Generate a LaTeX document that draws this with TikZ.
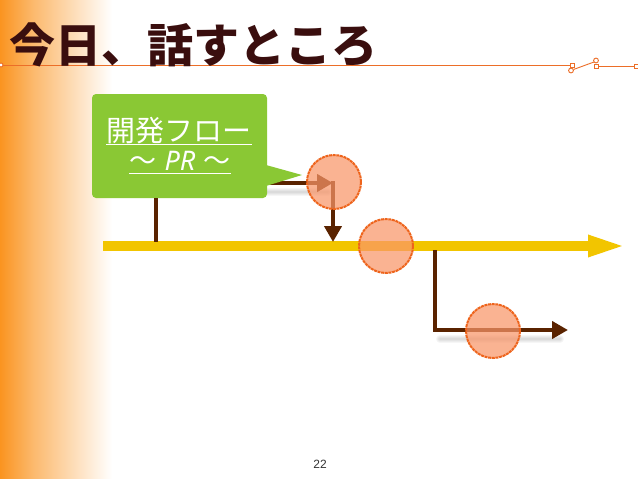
\documentclass[tikz,border=0pt]{standalone}
\usepackage{fontspec}
\usetikzlibrary{arrows.meta,calc}
\newfontfamily\cjk{Noto Sans CJK JP}
\newfontfamily\latsans{Noto Sans}
\setmainfont{Liberation Sans}
\definecolor{titlebrown}{RGB}{58,14,14}
\definecolor{lineorange}{RGB}{236,110,40}
\definecolor{sideorange}{RGB}{250,148,32}
\definecolor{boxgreen}{RGB}{138,200,52}
\definecolor{flowbrown}{RGB}{90,35,0}
\definecolor{mainyellow}{RGB}{242,197,0}
\definecolor{circfill}{RGB}{249,150,105}
\definecolor{circedge}{RGB}{238,100,28}
\pgfdeclarehorizontalshading{sidefade}{100bp}{color(0bp)=(sideorange); color(25bp)=(sideorange); color(40bp)=(sideorange!65!white); color(75bp)=(white); color(100bp)=(white)}
\tikzset{
  flow/.style={draw=flowbrown, line width=4pt, -{Triangle[length=16pt,width=17pt]}},
  flowplain/.style={draw=flowbrown, line width=4pt},
  shadowline/.style={draw=black, line width=#1, opacity=0.035, line cap=round},
  commit/.style={circle, minimum size=54pt, inner sep=0pt, fill=circfill, fill opacity=0.72, draw=circedge, line width=2pt, dash pattern=on 3pt off 0.7pt},
  sw/.style={draw=lineorange, line width=0.9pt},
}
\begin{document}
\begin{tikzpicture}[x=1pt,y=-1pt]
\useasboundingbox (0,0) rectangle (638,479);
\fill[white] (0,0) rectangle (638,479);
\shade[shading=sidefade] (0,0) rectangle (112,479);

% title rule with switch
\draw[sw] (3,65) -- (570,65);
\draw[sw, fill=white] (1,65) circle (2pt);
\draw[sw, fill=white] (570,63) rectangle (574,67);
\draw[sw, fill=white] (571,70.5) circle (2.4pt);
\draw[sw] (573.5,69.5) -- (594,62);
\draw[sw, fill=white] (596,60.5) circle (2.4pt);
\draw[sw, fill=white] (594,64) rectangle (598,68);
\draw[sw] (598,66) -- (634,66);
\draw[sw, fill=white] (634,64) rectangle (638,68);

\node[anchor=base west, inner sep=0pt, text=titlebrown, font=\cjk\bfseries\fontsize{46}{46}\selectfont] (title) at (9,62) {今日、話すところ};

% coordinates
\coordinate (boxpt) at (262,183);
\coordinate (c1) at (333,183);
\coordinate (c1down) at (333,242);
\coordinate (branchtop) at (156,198);
\coordinate (branchbot) at (156,242);
\coordinate (ystart) at (103,246);
\coordinate (yend) at (628,246);
\coordinate (b2top) at (435,250);
\coordinate (b2corner) at (435,330);
\coordinate (b2end) at (568,330);

% soft shadows
\foreach \w in {2,4,6,8} {
  \draw[shadowline=\w pt] (266,192) -- (328,192);
  \draw[shadowline=\w pt] (440,339) -- (560,339);
}

% main yellow line
\draw[draw=mainyellow, line width=10pt, -{Triangle[length=40pt,width=19pt]}] (ystart) -- (yend);

% brown flow under the callout
\draw[flow] (boxpt) -- (c1);

% green callout
\node[fill=boxgreen, rounded corners=4pt, minimum width=175pt, minimum height=104pt, inner sep=0pt] (box) at (179.5,146) {};
\fill[boxgreen] (266,165) -- (302,175) -- (266,186) -- cycle;
\node[anchor=base, inner sep=0pt, text=white, font=\cjk\fontsize{29}{29}\selectfont] (l1) at (179,141) {開発フロー};
\draw[white, line width=0.9pt] ($(l1.south west)+(0,1)$) -- ($(l1.south east)+(0,1)$);
\node[anchor=base, inner sep=0pt, text=white, font=\fontsize{27}{27}\selectfont] (l2) at (180,170) {{\cjk ～}\kern8pt{\latsans\itshape PR}\kern8pt{\cjk ～}};
\draw[white, line width=0.9pt] ($(l2.base west)+(0,3)$) -- ($(l2.base east)+(0,3)$);

% remaining brown flows
\draw[flowplain] (branchtop) -- (branchbot);
\draw[flow] (333,181) -- (c1down);
\draw[flowplain] (b2top) -- (b2corner);
\draw[flow] ($(b2corner)+(-2,0)$) -- (b2end);

% commit circles
\node[commit] (k1) at (334,182) {};
\node[commit] (k2) at (386,246) {};
\node[commit] (k3) at (493,331) {};

\node[text=black!80, font=\fontsize{12}{12}\selectfont] (page) at (320,464) {22};
\end{tikzpicture}
\end{document}
